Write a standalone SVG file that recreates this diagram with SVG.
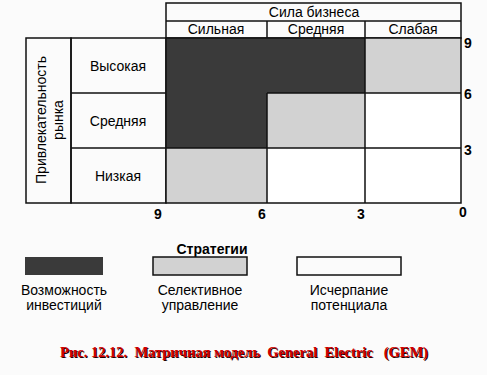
<svg xmlns="http://www.w3.org/2000/svg" width="487" height="375" viewBox="0 0 487 375">
<style>
.t{font-family:"Liberation Sans",Arial,sans-serif;font-size:14px;fill:#000;text-anchor:middle}
.b{font-weight:bold}
.ln{stroke:#111;stroke-width:1.5;fill:none}
.dark{fill:#3a3a3a}
.light{fill:#d2d2d2}
.cap{font-family:"Liberation Serif","Times New Roman",serif;font-size:14.5px;font-weight:bold;text-anchor:middle}
</style>
<rect width="487" height="375" fill="#fbfbfb"/>
<g id="header">
<rect x="166" y="3" width="295" height="35" fill="#fff" class="ln"/>
<line x1="166" y1="21" x2="461" y2="21" class="ln"/>
<line x1="267" y1="21" x2="267" y2="38" class="ln"/>
<line x1="365" y1="21" x2="365" y2="38" class="ln"/>
<text x="314" y="17" class="t">Сила бизнеса</text>
<text x="216" y="34" class="t">Сильная</text>
<text x="316" y="34" class="t">Средняя</text>
<text x="413" y="34" class="t">Слабая</text>
</g>
<g id="axis-label">
<rect x="26" y="38" width="45" height="165" fill="#fff" class="ln"/>
<text transform="translate(46,120) rotate(-90)" class="t">Привлекательность</text>
<text transform="translate(63,120) rotate(-90)" class="t">рынка</text>
</g>
<g id="row-labels">
<rect x="71" y="38" width="95" height="165" fill="#fff" class="ln"/>
<line x1="71" y1="93" x2="166" y2="93" class="ln"/>
<line x1="71" y1="148" x2="166" y2="148" class="ln"/>
<text x="118" y="71" class="t">Высокая</text>
<text x="118" y="126" class="t">Средняя</text>
<text x="118" y="181" class="t">Низкая</text>
</g>
<g id="matrix">
<rect x="166" y="38" width="295" height="165" fill="#fff"/>
<path class="dark" d="M166 38H365V93H267V148H166Z"/>
<rect x="365" y="38" width="96" height="55" class="light"/>
<rect x="267" y="93" width="98" height="55" class="light"/>
<rect x="166" y="148" width="101" height="55" class="light"/>
<path class="ln" d="M267 93H461M166 148H461M267 93V203M365 38V203"/>
<rect x="166" y="38" width="295" height="165" class="ln"/>
</g>
<g id="scales">
<text x="468" y="48" class="t b">9</text>
<text x="468" y="99" class="t b">6</text>
<text x="468" y="155" class="t b">3</text>
<text x="158" y="219" class="t b">9</text>
<text x="262" y="219" class="t b">6</text>
<text x="361" y="219" class="t b">3</text>
<text x="463" y="217" class="t b">0</text>
</g>
<g id="legend">
<text x="212" y="254" class="t b">Стратегии</text>
<rect x="25" y="257" width="78" height="18" class="dark"/>
<rect x="153" y="257" width="94" height="18" class="light ln"/>
<rect x="297" y="257" width="104" height="18" fill="#fff" class="ln"/>
<text x="64" y="295" class="t">Возможность</text>
<text x="64" y="310" class="t">инвестиций</text>
<text x="200" y="295" class="t">Селективное</text>
<text x="200" y="310" class="t">управление</text>
<text x="349" y="295" class="t">Исчерпание</text>
<text x="349" y="310" class="t">потенциала</text>
</g>
<g id="caption">
<text x="245" y="358" class="cap" fill="#200" xml:space="preserve">Рис. 12.12.  Матричная модель  General  Electric   (GEM)</text>
<text x="244" y="357" class="cap" fill="#d00000" xml:space="preserve">Рис. 12.12.  Матричная модель  General  Electric   (GEM)</text>
</g>
</svg>
